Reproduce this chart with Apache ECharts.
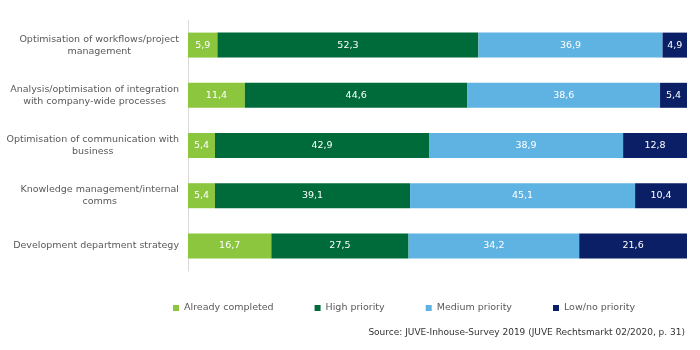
<!DOCTYPE html>
<html><head><meta charset="utf-8">
<script src="https://cdn.jsdelivr.net/npm/echarts@6/dist/echarts.min.js"></script>
<style>html,body{margin:0;padding:0;background:#fff}#c{width:700px;height:350px}</style>
</head><body><div id="c"></div>
<script>
const categories = [
  "Optimisation of workflows/project\nmanagement",
  "Analysis/optimisation of integration\nwith company-wide processes",
  "Optimisation of communication with\nbusiness",
  "Knowledge management/internal\ncomms",
  "Development department strategy"
];
const seriesNames = ["Already completed", "High priority", "Medium priority", "Low/no priority"];
const alreadyCompleted = [5.9, 11.4, 5.4, 5.4, 16.7];
const highPriority = [52.3, 44.6, 42.9, 39.1, 27.5];
const mediumPriority = [36.9, 38.6, 38.9, 45.1, 34.2];
const lowPriority = [4.9, 5.4, 12.8, 10.4, 21.6];
const colors = ["#8cc63f", "#006b3a", "#5fb3e3", "#0b1f66"];
const sourceText = "Source: JUVE-Inhouse-Survey 2019 (JUVE Rechtsmarkt 02/2020, p. 31)";

const FONT = "DejaVu Sans";
const chart = echarts.init(document.getElementById('c'));
const allData = [alreadyCompleted, highPriority, mediumPriority, lowPriority];
chart.setOption({
  animation: false,
  color: colors,
  grid: {left: 188, right: 13, top: 20, bottom: 79},
  xAxis: {type: 'value', min: 0, max: 100, show: false},
  yAxis: {
    type: 'category', data: categories, inverse: true,
    axisLine: {show: true, lineStyle: {color: '#d9d9d9', width: 1}},
    axisTick: {show: false},
    axisLabel: {
      margin: 9, color: '#595959', fontFamily: FONT, fontSize: 9.5, lineHeight: 12,
      formatter: v => v.split('\n').map(l => '{a|' + l + '}').join('\n'),
      rich: {a: {align: 'center', color: '#595959', fontFamily: FONT, fontSize: 9.5, lineHeight: 12}}
    }
  },
  legend: {
    left: 168, top: 298, icon: 'rect', itemWidth: 6, itemHeight: 6, itemGap: 41,
    textStyle: {color: '#595959', fontFamily: FONT, fontSize: 9.5},
    data: seriesNames
  },
  graphic: [{
    type: 'text', right: 15, top: 328,
    style: {text: sourceText, fill: '#333', font: '9px "DejaVu Sans"'}
  }],
  series: seriesNames.map((n, i) => ({
    name: n, type: 'bar', stack: 'total', barWidth: 25,
    data: allData[i],
    label: {
      show: true, position: 'inside',
      color: '#fff', fontFamily: FONT, fontSize: 9.5,
      formatter: p => p.value.toFixed(1).replace('.', ',')
    }
  }))
});
</script></body></html>
